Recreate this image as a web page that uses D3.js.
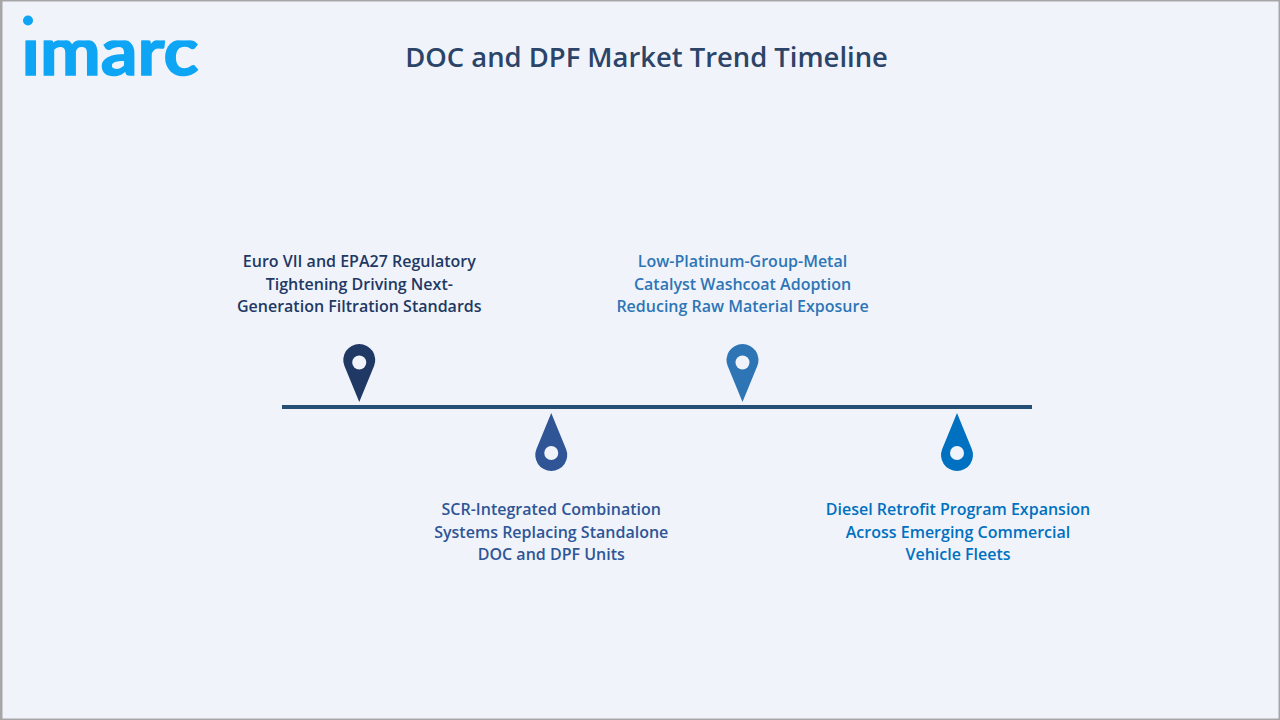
<!DOCTYPE html>
<html>
<head>
<meta charset="utf-8">
<script src="https://cdn.jsdelivr.net/npm/d3@7"></script>
<style>
    html, body { margin: 0; padding: 0; background: #f0f4fa; }
    svg { display: block; }
</style>
</head>
<body>
<div id="chart"></div>
<script>
    // timeline content
    const chartTitle = "DOC and DPF Market Trend Timeline";
    const logoText = "imarc";
    const milestoneLabels = [
        ["Euro VII and EPA27 Regulatory", "Tightening Driving Next-", "Generation Filtration Standards"],
        ["SCR-Integrated Combination", "Systems Replacing Standalone", "DOC and DPF Units"],
        ["Low-Platinum-Group-Metal", "Catalyst Washcoat Adoption", "Reducing Raw Material Exposure"],
        ["Diesel Retrofit Program Expansion", "Across Emerging Commercial", "Vehicle Fleets"]
    ];
    // share of the way along the line
    const milestonePositions = [10.3, 35.9, 61.4, 90];
    const milestoneSides = ["above", "below", "above", "below"];
    const milestoneColors = ["#1f3864", "#2f5597", "#2e75b6", "#0070c0"];

    const width = 1280;
    const height = 720;
    const lineY = 407;
    const pinRadius = 16;
    const pinLength = 58;
    const holeRadius = 7;
    const lineHeight = 22.5;

    const svg = d3.select("#chart").append("svg")
        .attr("width", width)
        .attr("height", height);

    svg.append("rect")
        .attr("width", width)
        .attr("height", height)
        .attr("fill", "#f0f4fa");

    // grey frame, heavier on the top and left
    svg.append("path")
        .attr("d", `M0 0H${width}V1.5H2.5V${height - 1.5}H${width}V${height}H0Z`)
        .attr("fill", "#a6a6a6");
    svg.append("rect")
        .attr("x", width - 1.5).attr("y", 0)
        .attr("width", 1.5).attr("height", height)
        .attr("fill", "#a6a6a6");

    // logo: the font's i dot is clipped off and redrawn higher up
    svg.append("clipPath").attr("id", "logo-clip")
        .append("rect")
        .attr("x", 0).attr("y", 40.5)
        .attr("width", 230).attr("height", 50);

    svg.append("g")
        .attr("clip-path", "url(#logo-clip)")
        .append("text")
        .attr("x", 21.5)
        .attr("y", 74.5)
        .attr("font-family", "Lato, sans-serif")
        .attr("font-weight", 700)
        .attr("font-size", 68)
        .attr("textLength", 177)
        .attr("lengthAdjust", "spacingAndGlyphs")
        .attr("fill", "#0ea5f5")
        .attr("stroke", "#0ea5f5")
        .attr("stroke-width", 1.5)
        .text(logoText);

    svg.append("circle")
        .attr("cx", 28).attr("cy", 20.5).attr("r", 5)
        .attr("fill", "#0ea5f5");

    svg.append("text")
        .attr("x", 646.5)
        .attr("y", 67)
        .attr("text-anchor", "middle")
        .attr("font-family", "'Open Sans', sans-serif")
        .attr("font-weight", 600)
        .attr("font-size", 27.4)
        .attr("fill", "#2b4468")
        .text(chartTitle);

    const x = d3.scaleLinear()
        .domain([0, 100])
        .range([282, 1032]);

    svg.append("line")
        .attr("x1", x(0))
        .attr("x2", x(100))
        .attr("y1", lineY)
        .attr("y2", lineY)
        .attr("stroke", "#264f75")
        .attr("stroke-width", 4);

    // teardrop pointing down, tip at the origin
    function pinPath(r, len) {
        const cy = -(len - r);
        const a = Math.acos(r / (len - r));
        const sx = r * Math.sin(a);
        const sy = cy + r * Math.cos(a);
        return `M0 0L${-sx} ${sy}A${r} ${r} 0 1 1 ${sx} ${sy}Z`;
    }

    const milestones = svg.selectAll(".milestone")
        .data(milestoneLabels)
        .join("g")
        .attr("class", "milestone")
        .attr("transform", (d, i) => `translate(${x(milestonePositions[i])} 0)`);

    milestones.append("path")
        .attr("d", pinPath(pinRadius, pinLength))
        .attr("transform", (d, i) => milestoneSides[i] === "above"
            ? `translate(0 ${lineY - 5})`
            : `translate(0 ${lineY + 6}) scale(1 -1)`)
        .attr("fill", (d, i) => milestoneColors[i]);

    milestones.append("circle")
        .attr("cy", (d, i) => milestoneSides[i] === "above" ? lineY - 44.5 : lineY + 46)
        .attr("r", holeRadius)
        .attr("fill", "#f0f4fa");

    milestones.append("text")
        .attr("text-anchor", "middle")
        .attr("font-family", "'Open Sans', sans-serif")
        .attr("font-weight", 600)
        .attr("font-size", 16)
        .attr("fill", (d, i) => milestoneColors[i])
        .each(function (d, i) {
            const firstLine = milestoneSides[i] === "above" ? 267 : 515;
            d3.select(this).selectAll("tspan")
                .data(d)
                .join("tspan")
                .attr("x", i === 3 ? 1 : 0)
                .attr("y", (t, j) => firstLine + j * lineHeight)
                .text(t => t);
        });
</script>
</body>
</html>
